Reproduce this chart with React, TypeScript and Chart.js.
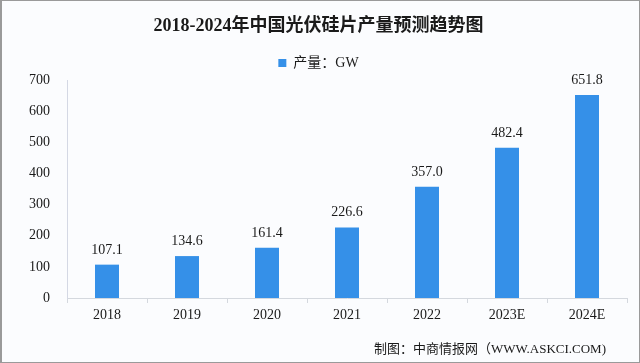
import React, { useEffect, useRef } from "react";
import { Chart, registerables } from "chart.js";

Chart.register(...registerables);

const categories = ["2018", "2019", "2020", "2021", "2022", "2023E", "2024E"];
const production = [107.1, 134.6, 161.4, 226.6, 357.0, 482.4, 651.8];
const yTicks = [0, 100, 200, 300, 400, 500, 600, 700];

const FONT = '"Liberation Serif", "Noto Sans CJK SC", serif';
const BAR = "#3590e8";

const valueLabels = {
  id: "valueLabels",
  afterDatasetsDraw(chart: any) {
    const ctx = chart.ctx;
    const meta = chart.getDatasetMeta(0);
    ctx.save();
    ctx.font = `14px ${FONT}`;
    ctx.fillStyle = "#1a1a1a";
    ctx.textAlign = "center";
    ctx.textBaseline = "alphabetic";
    meta.data.forEach((bar: any, i: number) => {
      ctx.fillText(production[i].toFixed(1), bar.x, bar.y - 11);
    });
    ctx.restore();
  },
};

const footer = {
  id: "footer",
  afterDraw(chart: any) {
    const ctx = chart.ctx;
    ctx.save();
    ctx.font = `13px ${FONT}`;
    ctx.fillStyle = "#1a1a1a";
    ctx.textAlign = "right";
    ctx.textBaseline = "middle";
    ctx.fillText("制图：中商情报网（WWW.ASKCI.COM)", 606, 350);
    ctx.restore();
  },
};

const background = {
  id: "bg",
  beforeDraw(chart: any) {
    const ctx = chart.ctx;
    ctx.save();
    ctx.fillStyle = "#fbfcfe";
    ctx.fillRect(0, 0, chart.width, chart.height);
    ctx.restore();
  },
};

export default function App() {
  const ref = useRef<HTMLCanvasElement | null>(null);
  useEffect(() => {
    document.body.style.margin = "0";
    const chart = new Chart(ref.current as HTMLCanvasElement, {
      type: "bar",
      data: {
        labels: categories,
        datasets: [
          {
            label: "产量：GW",
            data: production,
            backgroundColor: BAR,
            borderWidth: 0,
            categoryPercentage: 1,
            barPercentage: 0.3,
          },
        ],
      },
      plugins: [background, valueLabels, footer],
      options: {
        responsive: false,
        animation: false,
        layout: { padding: { left: 10, right: 13, top: 0, bottom: 30 } },
        plugins: {
          title: {
            display: true,
            text: "2018-2024年中国光伏硅片产量预测趋势图",
            color: "#1a1a1a",
            font: { family: FONT, size: 18, weight: "bold" },
            padding: { top: 11, bottom: 8 },
          },
          legend: {
            display: true,
            labels: {
              color: "#1a1a1a",
              font: { family: FONT, size: 14 },
              boxWidth: 8,
              boxHeight: 8,
              padding: 11,
            },
          },
          tooltip: { enabled: false },
        },
        scales: {
          x: {
            grid: {
              display: true,
              drawOnChartArea: false,
              drawTicks: true,
              tickLength: 5,
              color: "#d4d8de",
              offset: true,
            },
            border: { display: true, color: "#d4d8de" },
            ticks: { color: "#1a1a1a", font: { family: FONT, size: 14 }, padding: 4 },
            afterFit(scale: any) {
              scale.height = 35;
            },
          },
          y: {
            min: 0,
            max: 700,
            afterBuildTicks(scale: any) {
              scale.ticks = yTicks.map((v) => ({ value: v }));
            },
            grid: { display: false },
            border: { display: true, color: "#d4d8e4" },
            ticks: { color: "#1a1a1a", font: { family: FONT, size: 14 }, padding: 9 },
            afterFit(scale: any) {
              scale.width = 57;
              scale.paddingTop = 80;
            },
          },
        },
      },
    });
    return () => chart.destroy();
  }, []);
  return (
    <div style={{ position: "relative", width: 640, height: 363 }}>
      <canvas ref={ref} width={640} height={363} style={{ display: "block" }} />
      <div
        style={{
          position: "absolute",
          left: 0,
          top: 0,
          width: 640,
          height: 363,
          boxSizing: "border-box",
          border: "1px solid #9a9a9a",
          borderLeftWidth: 2,
          pointerEvents: "none",
        }}
      />
    </div>
  );
}
